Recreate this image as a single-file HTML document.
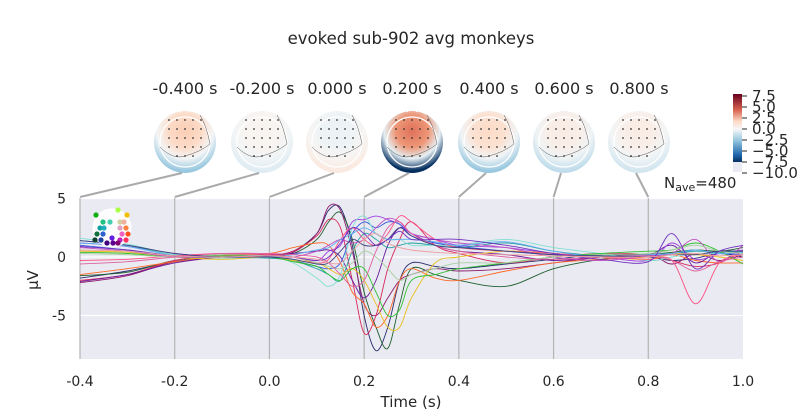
<!DOCTYPE html>
<html><head><meta charset="utf-8"><style>
body{margin:0;background:#fff;}
svg{display:block;font-family:"DejaVu Sans","Liberation Sans",sans-serif;}
</style></head><body>
<svg id="fig" width="800" height="420" viewBox="0 0 800 420">
<defs id="defs">
<linearGradient id="cbar" x1="0" y1="0" x2="0" y2="1">
<stop offset="0" stop-color="#67001f"/><stop offset="0.2" stop-color="#d6604d"/><stop offset="0.35" stop-color="#fddbc7"/><stop offset="0.45" stop-color="#f7f7f7"/><stop offset="0.6" stop-color="#92c5de"/><stop offset="0.78" stop-color="#2166ac"/><stop offset="0.87" stop-color="#053061"/><stop offset="0.87" stop-color="#eaeaf2"/><stop offset="1" stop-color="#eaeaf2"/>
</linearGradient>
</defs>
<text x="411" y="44" font-size="16.5" text-anchor="middle" fill="#262626">evoked sub-902 avg monkeys</text>
<g id="topos"></g>
<g>
<rect x="733" y="94" width="9" height="78" fill="url(#cbar)"/>
<g id="cbticks"></g>
</g>
<rect x="80" y="198" width="663" height="161" fill="#eaeaf2"/>
<g id="grid"></g>
<g id="lines"></g>
<g id="inset"></g>
<g id="axes"></g>
<text x="664" y="188" font-size="15" fill="#262626">N<tspan font-size="11" dy="3">ave</tspan><tspan dy="-3">=480</tspan></text>
<text x="411" y="407" font-size="15" text-anchor="middle" fill="#262626">Time (s)</text>
<text x="38" y="280" font-size="15" text-anchor="middle" fill="#262626" transform="rotate(-90 38 280)">µV</text>
</svg>
<script>
const times=[-0.4,-0.3,-0.2,-0.1,0,0.05,0.1,0.125,0.15,0.175,0.2,0.225,0.25,0.275,0.3,0.35,0.4,0.5,0.6,0.7,0.8,0.85,0.9,0.95,1.0];
const xTicks=[-0.4,-0.2,0.0,0.2,0.4,0.6,0.8,1.0];
const yTicks=[5,0,-5];
const topoTimes=[-0.4,-0.2,0.0,0.2,0.4,0.6,0.8];
const topoLabels=["-0.400 s","-0.200 s","0.000 s","0.200 s","0.400 s","0.600 s","0.800 s"];
const topoCenter=[2.5,0.3,-0.5,5.5,2.0,0.8,0.8];
const topoRim=[-3.0,-1.0,1.0,-8.0,-3.0,-2.0,-1.5];
const cbTicks=[7.5,5.0,2.5,0.0,-2.5,-5.0,-7.5,-10.0];
const chColors=["#2b2d6e","#1f5f2f","#8b1a6b","#d8285a","#ff6a2a","#6a1a9a","#a040e0","#3355dd","#20a0a0","#80e0d0","#e8c020","#30c030","#ff5080","#c050c0","#60b0f0","#a8d0a0","#e060a0","#404080","#7030c0","#f0a0a0"];
const ch1=[-1.8,-1.2,-0.4,0.0,0.2,0.5,2.0,4.0,4.2,1.0,-5.0,-8.0,-6.0,-2.0,-0.5,-0.8,-1.0,-0.6,-0.2,0.2,0.0,-0.3,-0.1,0.3,0.0];
const ch2=[-1.6,-1.3,-0.3,0.1,0.2,0.3,1.5,3.0,3.8,1.5,-3.0,-6.0,-7.8,-4.0,-1.0,-1.5,-2.0,-2.5,-1.0,-0.2,0.2,0.4,0.6,0.5,0.8];
const ch3=[-2.2,-1.6,-0.4,0.0,0.1,0.4,2.0,4.3,4.0,0.5,-4.0,-5.0,-3.5,-2.0,-1.5,-1.0,-1.2,-1.0,-0.5,0.0,0.2,-0.6,0.3,-0.3,0.2];
const ch4=[-2.0,-1.5,-0.3,0.2,0.2,0.5,1.8,3.2,2.5,-2.0,-6.5,-5.0,-1.0,1.5,3.0,1.0,0.3,-0.5,0.0,0.3,0.2,-0.3,-0.8,-0.5,0.5];
const ch5=[-1.5,-1.0,-0.4,0.1,0.3,0.8,1.2,1.0,-0.5,-3.0,-4.0,-6.0,-5.0,-2.0,-1.0,-1.8,-2.0,-1.2,-0.5,-0.2,0.0,0.2,-0.3,-0.5,-0.5];
const ch6=[-2.1,-1.5,-0.5,0.0,0.2,0.3,0.5,0.6,0.0,-2.0,-3.5,-2.0,1.0,2.5,2.0,1.0,0.5,0.2,-0.3,0.0,0.2,1.0,-0.5,0.5,0.3];
const ch7=[1.2,0.9,0.3,0.0,0.1,0.0,-0.3,0.5,1.0,3.0,3.2,3.5,3.2,2.8,2.0,1.5,1.0,0.8,0.3,0.0,-0.3,1.2,-0.2,0.3,0.6];
const ch8=[1.0,0.6,0.1,0.0,0.0,-0.3,-0.8,-1.0,-0.5,2.0,3.0,2.5,3.0,2.8,1.8,1.2,0.9,0.5,0.2,0.1,0.0,0.3,0.3,0.3,0.2];
const ch9=[1.4,1.0,0.2,0.0,-0.1,-0.3,-1.0,-1.5,-2.0,0.5,2.0,1.5,0.8,1.0,1.2,1.0,0.8,1.2,0.5,0.1,0.2,0.3,0.5,0.4,0.5];
const ch10=[1.6,1.1,0.2,-0.1,0.0,-0.5,-1.8,-2.5,-1.5,2.5,3.5,2.0,1.5,1.5,1.0,1.0,1.0,1.5,0.8,0.3,-0.3,0.0,0.3,0.3,0.4];
const ch11=[0.5,0.4,0.0,-0.2,0.0,-0.3,-0.5,-1.0,-1.5,-1.0,-2.0,-4.0,-6.0,-6.0,-3.5,-0.5,0.0,0.5,0.3,0.0,-0.2,0.3,0.2,0.0,-0.3];
const ch12=[0.4,0.3,0.0,0.1,0.0,-0.4,-0.8,-1.5,-2.0,-1.0,-1.0,-3.0,-5.0,-4.5,-2.0,-1.5,-1.0,-0.5,0.0,0.3,0.5,0.6,1.2,0.5,-0.6];
const ch13=[-0.3,-0.2,0.1,0.3,0.2,0.0,-0.5,-0.2,1.5,2.5,1.5,1.0,2.0,3.5,3.0,1.5,0.8,0.5,0.3,0.0,-0.2,-0.3,-4.0,-0.5,0.2];
const ch14=[0.8,0.5,0.0,0.0,0.1,0.0,0.5,1.0,1.5,1.2,1.5,2.5,3.3,3.0,2.0,1.5,1.2,0.8,0.0,-0.3,0.1,0.3,1.5,-0.4,1.0];
const ch15=[1.2,0.9,0.1,0.0,0.0,0.2,0.6,0.8,1.5,2.0,2.5,2.0,1.5,1.5,1.5,1.3,1.0,1.3,0.5,0.0,0.2,0.3,0.6,0.3,0.4];
const ch16=[0.3,0.2,0.0,0.2,0.1,0.0,-0.5,-0.8,-1.0,-0.5,0.5,0.0,-1.0,-2.0,-1.5,-1.0,-0.5,-0.5,0.0,0.2,0.3,0.6,1.0,0.5,0.3];
const ch17=[-0.6,-0.4,0.0,0.3,0.3,0.2,0.0,-0.5,-1.5,-2.5,-2.0,0.5,2.5,3.0,2.0,1.0,0.5,0.0,-0.2,0.0,0.1,-0.3,-1.2,-0.4,0.0];
const ch18=[1.4,1.0,0.3,0.0,0.0,-0.2,-0.6,-0.5,0.5,1.5,1.0,1.0,1.5,2.5,1.8,1.0,0.8,0.5,0.2,0.1,0.0,0.2,0.2,0.5,0.5];
const ch19=[0.9,0.6,0.1,0.0,0.1,0.0,-0.3,0.0,1.2,2.5,2.0,1.0,1.5,2.2,1.5,1.5,1.5,1.0,0.3,-0.2,-0.4,2.0,-1.0,0.5,1.0];
const ch20=[0.6,0.5,0.1,0.0,0.1,0.0,-0.2,-0.5,-0.5,0.5,1.5,2.0,1.2,0.8,0.6,0.4,0.3,0.2,0.1,0.0,0.0,0.2,0.3,0.1,0.2];
const series=[ch1,ch2,ch3,ch4,ch5,ch6,ch7,ch8,ch9,ch10,ch11,ch12,ch13,ch14,ch15,ch16,ch17,ch18,ch19,ch20];
const NS="http://www.w3.org/2000/svg";
const X0=80,X1=743,Y0=198,Y1=359;
function xs(t){return X0+(t+0.4)/1.4*(X1-X0);}
function ys(v){return 257-v*11.7;}
function mk(tag,attrs,parent){const e=document.createElementNS(NS,tag);for(const k in attrs)e.setAttribute(k,attrs[k]);parent.appendChild(e);return e;}
const grid=document.getElementById('grid'),axes=document.getElementById('axes'),lines=document.getElementById('lines'),defs=document.getElementById('defs');
yTicks.forEach(v=>{
 const l=mk('line',{x1:X0,x2:X1,y1:ys(v),y2:ys(v),stroke:'#fff','stroke-width':1.2},grid);
 
 
 const t=mk('text',{x:X0-14,y:ys(v)+5,'font-size':14,'text-anchor':'end',fill:'#262626'},axes);
 t.textContent=v;
 
 
});
xTicks.forEach(v=>{
 const t=mk('text',{x:xs(v),y:386,'font-size':14,'text-anchor':'middle',fill:'#262626'},axes);
 t.textContent=v.toFixed(1);
 
 
});
topoTimes.forEach((tt,i)=>{
 const l=mk('line',{x1:xs(tt),x2:xs(tt),y1:Y0,y2:Y1,stroke:'#b4b4b4','stroke-width':1.2},grid);
 
 
});
function path(vals){
 const p=vals.map((v,i)=>[xs(times[i]),ys(v)]);
 let d='M'+p[0][0].toFixed(1)+' '+p[0][1].toFixed(1);
 for(let i=0;i<p.length-1;i++){
  const a=p[Math.max(0,i-1)],b=p[i],c=p[i+1],e=p[Math.min(p.length-1,i+2)];
  const c1=[b[0]+(c[0]-a[0])/6,b[1]+(c[1]-a[1])/6],c2=[c[0]-(e[0]-b[0])/6,c[1]-(e[1]-b[1])/6];
  d+=` C${c1[0].toFixed(1)} ${c1[1].toFixed(1)} ${c2[0].toFixed(1)} ${c2[1].toFixed(1)} ${c[0].toFixed(1)} ${c[1].toFixed(1)}`;
 }
 return d;
}
series.forEach((s,i)=>{
 const p=mk('path',{d:path(s),fill:'none',stroke:chColors[i],'stroke-width':0.9},lines);
 
 
});
const inset=document.getElementById('inset');
mk('circle',{cx:112,cy:228,r:19,fill:'#fff','fill-opacity':0.85,stroke:'#fff'},inset);
const dots=[[96,215,'#10b010'],[118,210,'#aaff44'],[127,215,'#f0c000'],[103,222,'#20c080'],[110,222,'#40d0b0'],[120,222,'#d0d0a0'],[124,222,'#f0b0a0'],[100,228,'#10a0a0'],[104,228,'#20b0c0'],[120,228,'#e0a0c0'],[126,228,'#ff8040'],[97,234,'#107040'],[103,234,'#3060d0'],[122,234,'#f060c0'],[128,234,'#ff5020'],[95,240,'#104030'],[101,240,'#2040a0'],[112,238,'#6020e0'],[120,240,'#c020c0'],[126,240,'#ff3060'],[107,243,'#400080'],[113,243,'#600090'],[118,243,'#800070']];
dots.forEach(d=>{const c=mk('circle',{cx:d[0],cy:d[1],r:2.6,fill:d[2]},inset);
 
 });
const topos=document.getElementById('topos');
const cx0=[185,262,337,412,489,564,639];
function col(v){
 const a=Math.max(-1,Math.min(1,v/8));
 const pos=[[247,247,247],[253,219,199],[244,165,130],[214,96,77],[178,24,43]];
 const neg=[[247,247,247],[209,229,240],[146,197,222],[67,147,195],[33,102,172],[5,48,97]];
 const arr=a>=0?pos:neg,s=Math.abs(a)*(arr.length-1),k=Math.min(arr.length-2,Math.floor(s)),f=s-k;
 const c=arr[k].map((x,j)=>Math.round(x+(arr[k+1][j]-x)*f));
 return `rgb(${c[0]},${c[1]},${c[2]})`;
}
topoTimes.forEach((tt,i)=>{
 const cx=cx0[i],cy=142,vc=topoCenter[i],vr=topoRim[i];
 const gid='tg'+i;
 const lg=mk('radialGradient',{id:gid,cx:'0.5',cy:'0.32',r:'0.75',fx:'0.5',fy:'0.32'},defs);
 mk('stop',{offset:'0','stop-color':col(vc)},lg);
 mk('stop',{offset:'0.35','stop-color':col(vc*0.8)},lg);
 mk('stop',{offset:'0.6','stop-color':col((vc+vr)*0.3)},lg);
 mk('stop',{offset:'0.85','stop-color':col(vr)},lg);
 mk('stop',{offset:'1','stop-color':col(vr*1.1)},lg);
 const g=mk('g',{},topos);
 
 
 mk('circle',{cx:cx,cy:cy,r:31,fill:`url(#${gid})`},g);
 mk('circle',{cx:cx,cy:cy,r:25,fill:'none',stroke:'#fff','stroke-width':1.3},g);
 mk('path',{d:`M${cx-5} ${cy-30} L${cx} ${cy-35} L${cx+5} ${cy-30}`,fill:'none',stroke:'#fff'},g);
 mk('path',{d:`M${cx-25} ${cy+5} Q${cx-12} ${cy+18} ${cx} ${cy+14} Q${cx+15} ${cy+10} ${cx+25} ${cy+2} Q${cx+22} ${cy-15} ${cx+15} ${cy-27}`,fill:'none',stroke:'#555','stroke-width':0.5},g);
 for(let r=0;r<5;r++)for(let k=-2;k<=2;k++){if(r==4&&Math.abs(k)>1)continue;
  mk('circle',{cx:cx+k*8,cy:cy-22+r*9,r:0.9,fill:'#333'},g);}
 const t=mk('text',{x:cx,y:94,'font-size':16,'text-anchor':'middle',fill:'#262626'},topos);
 t.textContent=topoLabels[i];
 
 
 const l=mk('line',{x1:cx-3,y1:cy+31,x2:xs(tt),y2:Y0-1,stroke:'#aaa','stroke-width':2},topos);
 
 
});
const cbt=document.getElementById('cbticks');
cbTicks.forEach(v=>{
 const y=96+(7.5-v)/17.5*77;
 mk('line',{x1:742,x2:747,y1:y,y2:y,stroke:'#262626'},cbt);
 const t=mk('text',{x:752,y:y+5,'font-size':15,fill:'#262626'},cbt);
 t.textContent=(v<0?'\u2212':'')+Math.abs(v).toFixed(1);
 
 
});
</script>
</body></html>
